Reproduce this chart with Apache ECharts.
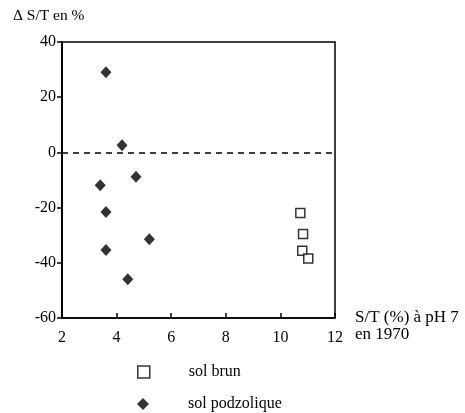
<!DOCTYPE html>
<html><head><meta charset="utf-8">
<script src="https://cdn.jsdelivr.net/npm/echarts@6/dist/echarts.min.js"></script>
<style>html,body{margin:0;padding:0;background:#fff}#c{width:465px;height:413px}</style>
</head><body><div id="c"></div>
<script>
var solBrun = [[10.73,-22.0],[10.83,-29.6],[10.80,-35.6],[11.02,-38.4]];
var solPodzolique = [[3.61,29.0],[4.20,2.6],[4.71,-8.8],[3.40,-11.9],[3.61,-21.6],[5.20,-31.5],[3.61,-35.4],[4.41,-46.0]];
var xTicks = [2,4,6,8,10,12];
var yTicks = [-60,-40,-20,0,20,40];
var FONT = 'Liberation Serif';
var legendText = {fontFamily:FONT,fontSize:16,color:'#000',padding:[0,0,0,34]};
var chart = echarts.init(document.getElementById('c'));
chart.setOption({
  animation:false,
  backgroundColor:'#fff',
  textStyle:{fontFamily:FONT,color:'#000'},
  grid:{left:62,right:130,top:42,bottom:95,show:true,borderColor:'#000',borderWidth:1.5,backgroundColor:'transparent'},
  xAxis:{type:'value',min:2,max:12,interval:2,
    axisLine:{show:true,onZero:false,lineStyle:{color:'#000',width:1.5}},
    axisTick:{show:true,inside:true,length:5,lineStyle:{color:'#000',width:1.5}},
    axisLabel:{fontFamily:FONT,fontSize:16,color:'#000',margin:12},
    splitLine:{show:false},
    name:'S/T (%) à pH 7\nen 1970',nameLocation:'end',nameGap:20,
    nameTextStyle:{fontFamily:FONT,fontSize:17,color:'#000',align:'left',verticalAlign:'top',lineHeight:17,padding:[-9,0,0,0]}
  },
  yAxis:{type:'value',min:-60,max:40,interval:20,
    axisLine:{show:true,lineStyle:{color:'#000',width:2}},
    axisTick:{show:true,inside:false,length:5,lineStyle:{color:'#000',width:1.5}},
    axisLabel:{fontFamily:FONT,fontSize:16,color:'#000',margin:6},
    splitLine:{show:false}
  },
  graphic:[{type:'text',left:13,top:8,style:{text:'Δ S/T en %',font:'15.5px "Liberation Serif"',fill:'#000'}}],
  legend:[
    {orient:'vertical',left:132,top:359,itemWidth:12,itemHeight:12,textStyle:legendText,
     data:[{name:'sol brun',icon:'rect',itemStyle:{color:'#fff',borderColor:'#000',borderWidth:1.5}}]},
    {orient:'vertical',left:132,top:391,itemWidth:12,itemHeight:12,textStyle:legendText,
     data:[{name:'sol podzolique',icon:'diamond',itemStyle:{color:'#000'}}]}
  ],
  series:[
    {name:'sol brun',type:'scatter',data:solBrun,symbol:'rect',symbolSize:9,
     itemStyle:{color:'#fff',borderColor:'#000',borderWidth:1.5},z:3},
    {name:'sol podzolique',type:'scatter',data:solPodzolique,symbol:'diamond',symbolSize:[11,12],
     itemStyle:{color:'#000'},z:4,
     markLine:{silent:true,symbol:'none',label:{show:false},
       lineStyle:{color:'#000',type:[6,5],width:1.5},data:[{yAxis:0}]}}
  ]
});
</script></body></html>
